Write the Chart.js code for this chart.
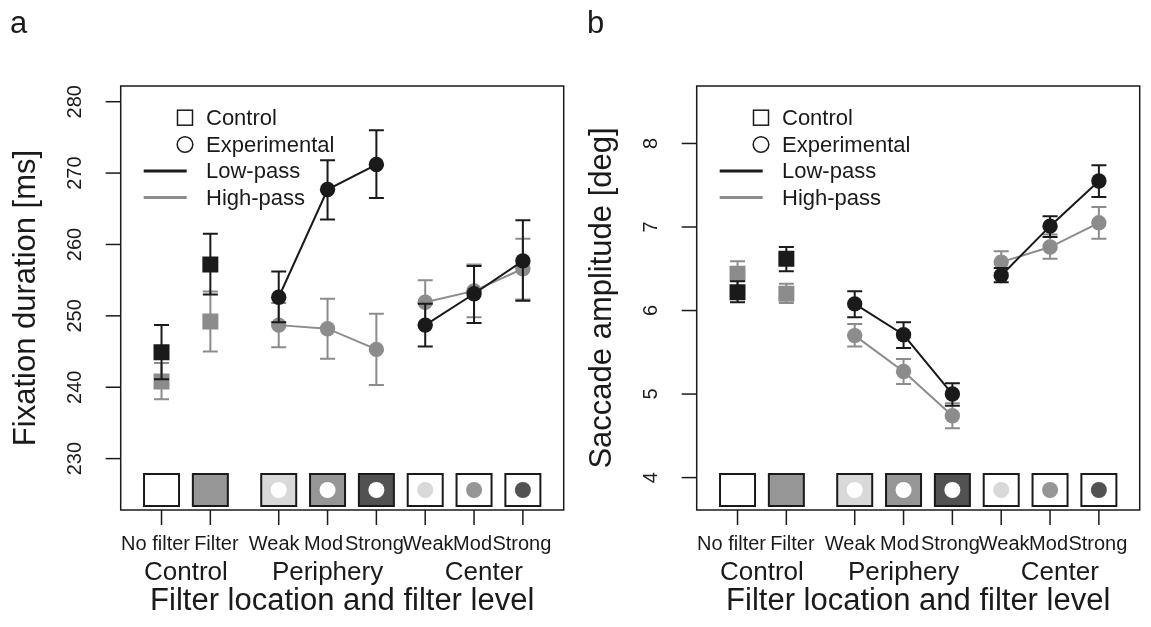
<!DOCTYPE html>
<html><head><meta charset="utf-8">
<script src="https://cdn.jsdelivr.net/npm/chart.js@4.4.1/dist/chart.umd.min.js"></script>
<style>
html,body{margin:0;padding:0;background:#fff;width:1151px;height:627px;overflow:hidden}
canvas{position:absolute;top:0}
#ca{left:0}
#cb{left:575px}
</style></head><body>
<canvas id="ca" width="575" height="627"></canvas>
<canvas id="cb" width="576" height="627"></canvas>
<script>
// ---------- data ----------
const positions = [0, 1, 2.4, 3.4, 4.4, 5.4, 6.4, 7.4];
const levelLabels = ['No filter', 'Filter', 'Weak', 'Mod', 'Strong', 'Weak', 'Mod', 'Strong'];
const groupLabels = ['Control', 'Periphery', 'Center'];
const groupPositions = [0.5, 3.4, 6.6];
const legendLabels = ['Control', 'Experimental', 'Low-pass', 'High-pass'];

const fixTicks = [230, 240, 250, 260, 270, 280];
const fixLowMean = [244.9, 257.2, 252.6, 267.7, 271.2, 248.7, 253.1, 257.7];
const fixLowHi   = [248.7, 261.5, 256.2, 271.8, 276.0, 251.7, 257.0, 263.4];
const fixLowLo   = [241.1, 253.0, 249.1, 263.5, 266.5, 245.7, 249.0, 252.1];
const fixHighMean = [240.8, 249.2, 248.7, 248.2, 245.3, 251.9, 253.5, 256.6];
const fixHighHi   = [243.4, 253.4, 251.8, 252.4, 250.3, 255.0, 257.2, 260.8];
const fixHighLo   = [238.3, 245.0, 245.6, 244.0, 240.3, 248.8, 249.8, 252.3];

const sacTicks = [4, 5, 6, 7, 8];
const sacLowMean = [6.22, 6.62, 6.08, 5.71, 5.00, 6.42, 7.01, 7.55];
const sacLowHi   = [6.35, 6.76, 6.23, 5.86, 5.13, 6.51, 7.13, 7.74];
const sacLowLo   = [6.10, 6.47, 5.92, 5.55, 4.86, 6.34, 6.88, 7.36];
const sacHighMean = [6.44, 6.20, 5.70, 5.27, 4.74, 6.58, 6.76, 7.05];
const sacHighHi   = [6.59, 6.32, 5.84, 5.42, 4.89, 6.71, 6.91, 7.24];
const sacHighLo   = [6.29, 6.09, 5.57, 5.12, 4.59, 6.45, 6.62, 6.86];

// ---------- styles ----------
const INK = '#1a1a1a';
const GRAY = '#8c8c8c';
const FONT = '"Liberation Sans", Arial, Helvetica, sans-serif';
const iconFill = ['#ffffff', '#969696', '#d9d9d9', '#969696', '#525252', '#ffffff', '#ffffff', '#ffffff'];
const iconDot  = [null, null, '#ffffff', '#ffffff', '#ffffff', '#d9d9d9', '#969696', '#525252'];
const labelShift = [-6, 6, -4.5, -4, -2, 3, -1.5, -1];
const groups = [[0, 1], [2, 3, 4], [5, 6, 7]];

function makeSeries(mean, lo, hi, color) {
  return groups.map((idxs, g) => ({
    data: idxs.map(i => ({ x: positions[i], y: mean[i] })),
    errLo: idxs.map(i => lo[i]),
    errHi: idxs.map(i => hi[i]),
    borderColor: color,
    backgroundColor: color,
    pointBackgroundColor: color,
    pointBorderWidth: 0,
    pointStyle: g === 0 ? 'rect' : 'circle',
    pointRadius: g === 0 ? 11.3 : 7.7,
    pointHoverRadius: g === 0 ? 11.3 : 7.7,
    showLine: g !== 0,
    borderWidth: 2,
    tension: 0
  }));
}

const panelPlugin = {
  id: 'panel',
  beforeDatasetsDraw(chart) {
    const { ctx, chartArea: a, scales: { x } } = chart;
    const cy = a.bottom - 20;
    ctx.save();
    positions.forEach((p, i) => {
      const cx = x.getPixelForValue(p);
      ctx.fillStyle = iconFill[i];
      ctx.fillRect(cx - 17.5, cy - 16, 35, 32);
      ctx.lineWidth = 2;
      ctx.strokeStyle = INK;
      ctx.strokeRect(cx - 17.5, cy - 16, 35, 32);
      if (iconDot[i]) {
        ctx.beginPath();
        ctx.arc(cx, cy, 8, 0, Math.PI * 2);
        ctx.fillStyle = iconDot[i];
        ctx.fill();
      }
    });
    ctx.restore();
  },
  beforeDatasetDraw(chart, args) {
    const ds = chart.data.datasets[args.index];
    if (!ds.errLo) return;
    const { ctx, scales: { x, y } } = chart;
    ctx.save();
    ctx.strokeStyle = ds.borderColor;
    ctx.lineWidth = 2;
    ds.data.forEach((d, k) => {
      const px = x.getPixelForValue(d.x);
      const y1 = y.getPixelForValue(ds.errLo[k]);
      const y2 = y.getPixelForValue(ds.errHi[k]);
      ctx.beginPath();
      ctx.moveTo(px, y1); ctx.lineTo(px, y2);
      ctx.moveTo(px - 7.5, y1); ctx.lineTo(px + 7.5, y1);
      ctx.moveTo(px - 7.5, y2); ctx.lineTo(px + 7.5, y2);
      ctx.stroke();
    });
    ctx.restore();
  },
  afterDraw(chart, args, opts) {
    const { ctx, chartArea: a, scales: { x, y } } = chart;
    ctx.save();
    ctx.strokeStyle = INK;
    ctx.fillStyle = INK;
    ctx.lineWidth = 1.5;
    // box
    ctx.strokeRect(a.left, a.top, a.right - a.left, a.bottom - a.top);
    // y ticks
    ctx.font = '20px ' + FONT;
    opts.yTicks.forEach(t => {
      const py = y.getPixelForValue(t);
      ctx.beginPath(); ctx.moveTo(a.left - 15, py); ctx.lineTo(a.left, py); ctx.stroke();
      ctx.save();
      ctx.translate(a.left - 45, py);
      ctx.rotate(-Math.PI / 2);
      ctx.textAlign = 'center'; ctx.textBaseline = 'middle';
      ctx.fillText(String(t), 0, 0);
      ctx.restore();
    });
    // y title
    ctx.save();
    ctx.font = '31px ' + FONT;
    ctx.translate(a.left - 94, (a.top + a.bottom) / 2);
    ctx.rotate(-Math.PI / 2);
    ctx.textAlign = 'center'; ctx.textBaseline = 'middle';
    ctx.fillText(opts.yTitle, 0, 0);
    ctx.restore();
    // x ticks & labels
    ctx.textAlign = 'center'; ctx.textBaseline = 'alphabetic';
    ctx.font = '20px ' + FONT;
    positions.forEach((p, i) => {
      const px = x.getPixelForValue(p);
      ctx.beginPath(); ctx.moveTo(px, a.bottom); ctx.lineTo(px, a.bottom + 15); ctx.stroke();
      ctx.fillText(levelLabels[i], px + labelShift[i], a.bottom + 40);
    });
    ctx.font = '26px ' + FONT;
    groupLabels.forEach((g, i) => ctx.fillText(g, x.getPixelForValue(groupPositions[i]), a.bottom + 70));
    ctx.font = '31px ' + FONT;
    ctx.fillText('Filter location and filter level', (a.left + a.right) / 2, a.bottom + 100);
    // panel letter
    ctx.textAlign = 'left';
    ctx.font = '31px ' + FONT;
    ctx.fillText(opts.letter, opts.letterX, 33);
    // legend
    const lx = a.left + 64.3, tx = a.left + 85.3;
    const rows = [31.7, 58.5, 85, 111.5].map(v => a.top + v);
    ctx.lineWidth = 1.5;
    ctx.strokeRect(lx - 7.5, rows[0] - 7.5, 15, 15);
    ctx.beginPath(); ctx.arc(lx, rows[1], 7.8, 0, Math.PI * 2); ctx.stroke();
    ctx.lineWidth = 3;
    ctx.beginPath(); ctx.moveTo(a.left + 23, rows[2]); ctx.lineTo(a.left + 66, rows[2]); ctx.stroke();
    ctx.strokeStyle = GRAY;
    ctx.beginPath(); ctx.moveTo(a.left + 23, rows[3]); ctx.lineTo(a.left + 66, rows[3]); ctx.stroke();
    ctx.font = '22px ' + FONT;
    ctx.textBaseline = 'middle';
    legendLabels.forEach((l, i) => ctx.fillText(l, tx, rows[i] + 1));
    ctx.restore();
  }
};

function build(id, datasets, ymin, ymax, opts, padLeft) {
  return new Chart(document.getElementById(id), {
    type: 'scatter',
    data: { datasets },
    options: {
      responsive: false,
      animation: false,
      events: [],
      devicePixelRatio: 1,
      layout: { padding: { left: padLeft, right: 5.7, top: 86, bottom: 117 } },
      scales: {
        x: { type: 'linear', min: -0.836, max: 8.236, display: false },
        y: { type: 'linear', min: ymin, max: ymax, display: false }
      },
      plugins: { legend: { display: false }, tooltip: { enabled: false }, panel: opts }
    },
    plugins: [panelPlugin]
  });
}

build('ca',
  [...makeSeries(fixLowMean, fixLowLo, fixLowHi, INK), ...makeSeries(fixHighMean, fixHighLo, fixHighHi, GRAY)],
  222.8, 282.2,
  { yTicks: fixTicks, yTitle: 'Fixation duration [ms]', letter: 'a', letterX: 10 }, 120.7);

build('cb',
  [...makeSeries(sacLowMean, sacLowLo, sacLowHi, INK), ...makeSeries(sacHighMean, sacHighLo, sacHighHi, GRAY)],
  3.612, 8.688,
  { yTicks: sacTicks, yTitle: 'Saccade amplitude [deg]', letter: 'b', letterX: 12 }, 121.7);
</script>
</body></html>
